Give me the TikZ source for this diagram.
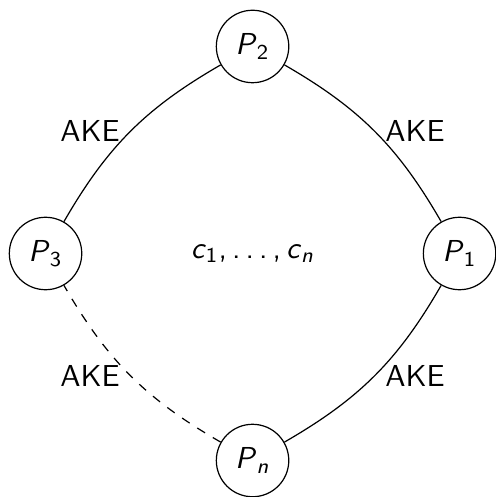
\documentclass[tikz,border=0pt]{standalone}
\usepackage{tikz}
\usetikzlibrary{positioning}
\newcommand{\party}[1]{\textit{P}\textsubscript{#1}}
\newcommand{\key}[1]{\textit{c}\textsubscript{#1}}
\tikzset{
  party/.style={circle, draw, minimum size=0.84cm, inner sep=1pt},
  akeline/.style={bend left=15},
  akelabel/.style={midway}
}

\begin{document}
\begin{tikzpicture}[font=\sffamily]
  \useasboundingbox (-2.928,-2.823) rectangle (2.812,2.939);

  % parties
  \node[party] (p1) at (2.4, 0) {\party{1}};
  \node[party] (p2) at (0, 2.4) {\party{2}};
  \node[party] (p3) at (-2.4, 0) {\party{3}};
  \node[party] (pn) at (0, -2.4) {\party{\textit{n}}};

  % keys
  \node (keys) at (0, 0) {\key{1},\,.\,.\,.\,,\,\key{\textit{n}}};

  % AKE links
  \draw (p3) to[akeline] node[akelabel, left] {AKE} (p2);
  \draw (p2) to[akeline] node[akelabel, right] {AKE} (p1);
  \draw (p1) to[akeline] node[akelabel, right] {AKE} (pn);
  \draw[dashed] (pn) to[akeline] node[akelabel, left] {AKE} (p3);
\end{tikzpicture}
\end{document}
